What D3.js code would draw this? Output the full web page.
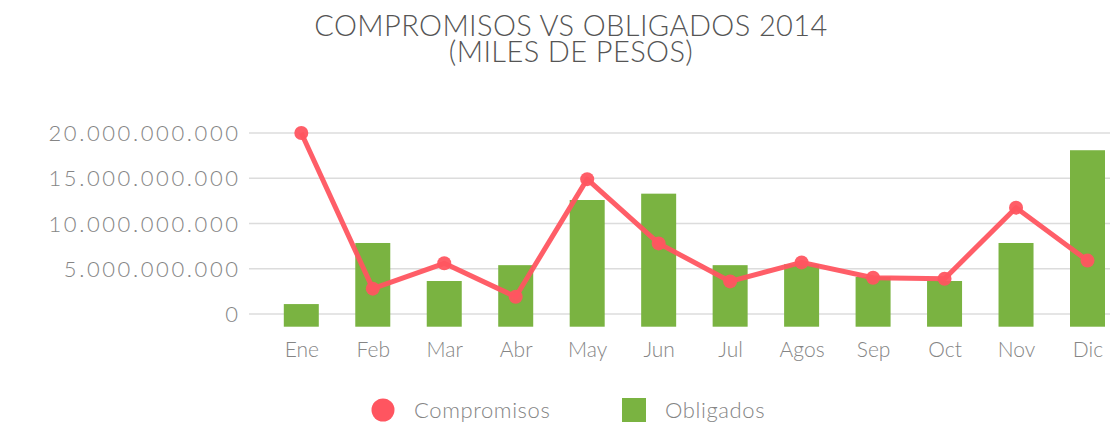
<!DOCTYPE html>
<html lang="es">
<head>
<meta charset="utf-8">
<title>Compromisos vs Obligados 2014</title>
<script src="https://cdn.jsdelivr.net/npm/d3@7"></script>
<style>
  body { margin: 0; background: #fff; }
  text { font-family: Lato, "Open Sans", sans-serif; font-weight: 300; }
</style>
</head>
<body>
<div id="chart"></div>
<script>
var meses = ["Ene","Feb","Mar","Abr","May","Jun","Jul","Agos","Sep","Oct","Nov","Dic"]
// compromisos (linea), en miles de pesos
var compromisos = [20.0e9, 2.8e9, 5.6e9, 1.9e9, 14.9e9, 7.8e9, 3.6e9, 5.7e9, 4.0e9, 3.9e9, 11.75e9, 5.9e9]
// obligados (barras, eje secundario oculto)
var obligados = [2.5e9, 9.25e9, 5.05e9, 6.8e9, 14.0e9, 14.7e9, 6.8e9, 6.9e9, 5.5e9, 5.05e9, 9.25e9, 19.5e9]
var yTicks = [0, 5e9, 10e9, 15e9, 20e9]

var W = 1111, H = 423

var svg = d3.select("#chart").append("svg")
    .attr("width", W).attr("height", H)

var x = d3.scalePoint().domain(meses).range([301.3, 1087.5])
var y = d3.scaleLinear().domain([0, 20e9]).range([314, 133])
var y2 = d3.scaleLinear().domain([0, 20e9]).range([326.7, 145.7])

var fmt = function(v){
    return d3.format(",")(v).replace(/,/g, ".")
}

// titulo
svg.append("text")
    .attr("x", 571).attr("y", 36).attr("text-anchor", "middle")
    .attr("fill", "#555").style("font-size", "29px")
    .style("letter-spacing", "0.4px")
    .text("COMPROMISOS VS OBLIGADOS 2014")
svg.append("text")
    .attr("x", 571).attr("y", 62).attr("text-anchor", "middle")
    .attr("fill", "#555").style("font-size", "29px")
    .style("letter-spacing", "0.4px")
    .text("(MILES DE PESOS)")

// grid
svg.selectAll(".grid")
    .data(yTicks)
    .enter().append("line")
    .attr("x1", 249).attr("x2", 1110)
    .attr("y1", function(d){ return y(d) })
    .attr("y2", function(d){ return y(d) })
    .attr("stroke", "#dcdcdc").attr("stroke-width", 1.5)

// eje y
var yAxis = svg.append("g")
    .attr("transform", "translate(240.6,0)")
    .call(d3.axisLeft(y).tickValues(yTicks).tickSize(0).tickPadding(0).tickFormat(fmt))
yAxis.select(".domain").remove()
yAxis.selectAll("text")
    .attr("fill", "#858585")
    .style("font-size", "22px")
    .style("letter-spacing", "2.6px")
    .attr("dy", "0.35em")

// barras
svg.selectAll(".bar")
    .data(obligados)
    .enter().append("rect")
    .attr("class", "bar")
    .attr("x", function(d, i){ return x(meses[i]) - 17.5 })
    .attr("width", 35)
    .attr("y", function(d){ return y2(d) })
    .attr("height", function(d){ return y2(0) - y2(d) })
    .attr("fill", "#7ab341")

// linea
var line = d3.line()
    .x(function(d, i){ return x(meses[i]) })
    .y(function(d){ return y(d) })

svg.append("path")
    .datum(compromisos)
    .attr("d", line)
    .attr("fill", "none")
    .attr("stroke", "#ff5560")
    .attr("stroke-width", 5)
    .attr("stroke-linejoin", "round")
    .attr("opacity", 0.95)

svg.selectAll(".dot")
    .data(compromisos)
    .enter().append("circle")
    .attr("cx", function(d, i){ return x(meses[i]) })
    .attr("cy", function(d){ return y(d) })
    .attr("r", 7)
    .attr("fill", "#ff5560")
    .attr("opacity", 0.95)

// eje x
var xAxis = svg.append("g")
    .attr("transform", "translate(0,342)")
    .call(d3.axisBottom(x).tickSize(0).tickPadding(0))
xAxis.select(".domain").remove()
xAxis.selectAll("text")
    .attr("fill", "#858585")
    .style("font-size", "21px")
    .attr("dy", "0.71em")

// leyenda
var legend = svg.append("g")
legend.append("circle").attr("cx", 383).attr("cy", 410).attr("r", 11.5).attr("fill", "#ff5560")
legend.append("text").attr("x", 414).attr("y", 418).text("Compromisos")
    .attr("fill", "#858585").style("font-size", "22px").style("letter-spacing", "0.6px")
legend.append("rect").attr("x", 622).attr("y", 398).attr("width", 24).attr("height", 24).attr("fill", "#7ab341")
legend.append("text").attr("x", 665).attr("y", 418).text("Obligados")
    .attr("fill", "#858585").style("font-size", "22px").style("letter-spacing", "0.6px")
</script>
</body>
</html>
